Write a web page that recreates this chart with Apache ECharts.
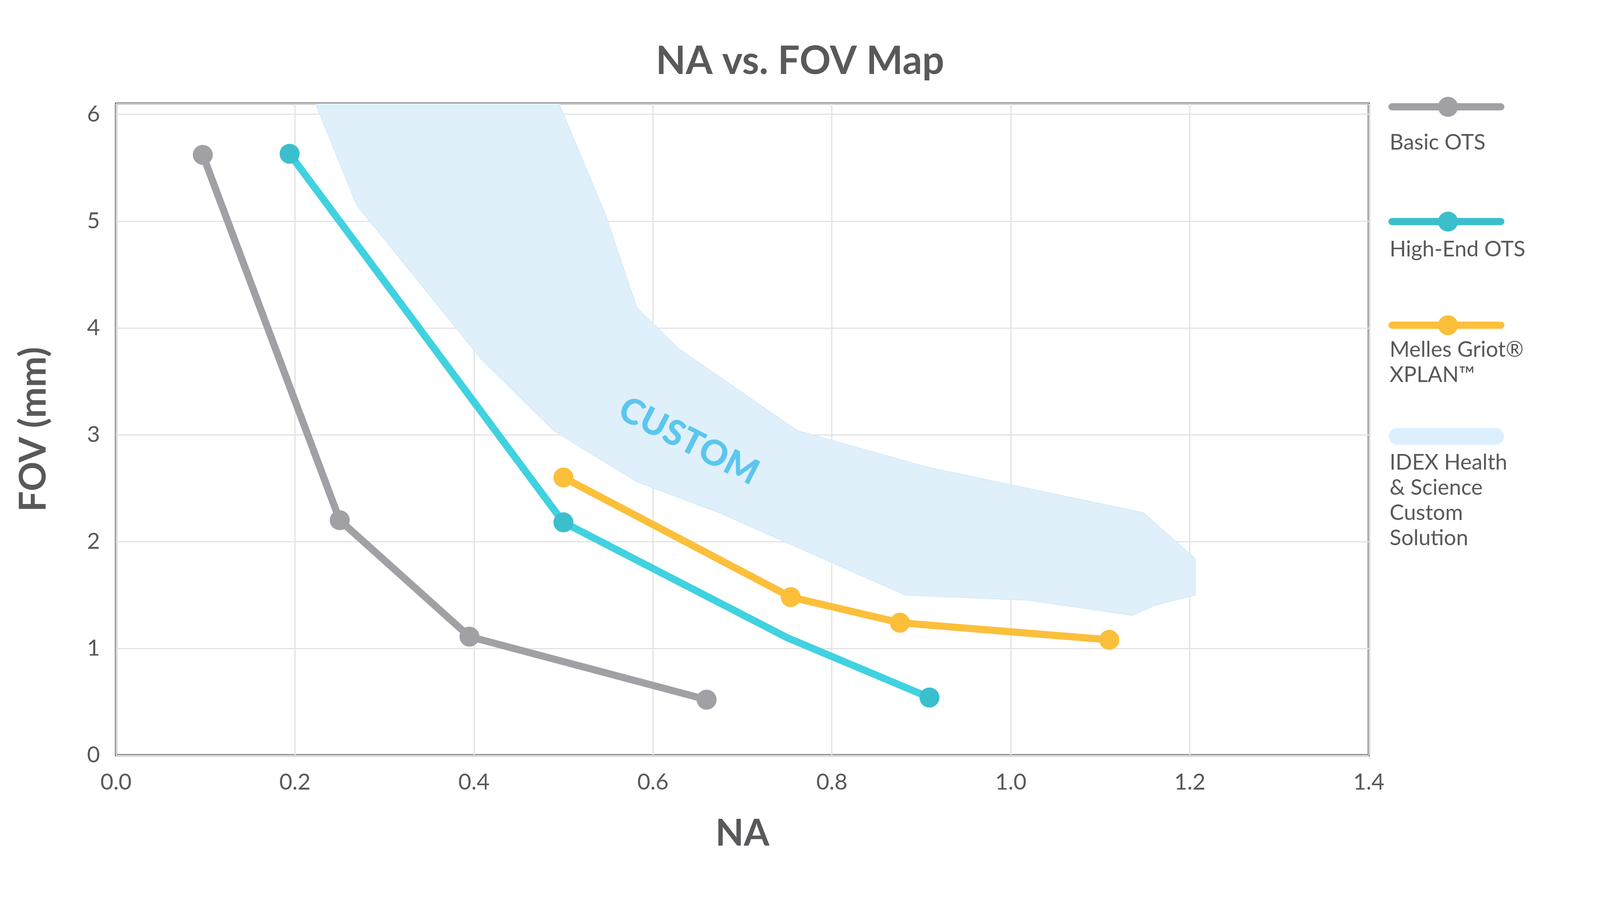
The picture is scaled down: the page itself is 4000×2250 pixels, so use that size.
<!DOCTYPE html>
<html><head><meta charset="utf-8">
<script src="https://cdn.jsdelivr.net/npm/echarts@6/dist/echarts.min.js"></script>
<style>html,body{margin:0;padding:0;background:#fff}#c{width:4000px;height:2250px}</style>
</head><body><div id="c"></div>
<script>
const basicOTS = [[0.097,5.62],[0.25,2.2],[0.395,1.11],[0.66,0.52]];
const highEndOTS = [[0.194,5.63],[0.5,2.18],[0.75,1.1],[0.909,0.54]];
const highEndMarkers = [true,true,false,true];
const mellesGriot = [[0.5,2.6],[0.754,1.48],[0.876,1.24],[1.11,1.08]];
const customRegion = [[0.223,6.1],[0.495,6.1],[0.547,5.06],[0.582,4.19],[0.628,3.81],[0.761,3.04],[0.905,2.70],[1.148,2.27],[1.206,1.84],[1.206,1.5],[1.16,1.4],[1.136,1.31],[1.02,1.45],[0.882,1.5],[0.79,1.84],[0.674,2.27],[0.582,2.56],[0.489,3.04],[0.408,3.71],[0.269,5.15]];
const customLabel = [[0.64,2.94]];
const legendItems = ['Basic OTS','High-End OTS','Melles Griot®\nXPLAN™','IDEX Health\n& Science\nCustom\nSolution'];

const FONT = 'Lato';
const TXT = '#58595b';
const chart = echarts.init(document.getElementById('c'));
function lineSeries(name, data, color, markers){
  return {type:'line', name, z:3,
    data: data.map((d,i)=>({value:d, symbolSize: (markers && !markers[i]) ? 0 : 50})),
    lineStyle:{color, width:18}, itemStyle:{color}, symbol:'circle', showSymbol:true, animation:false};
}
const LX1=3480, LX2=3752, LDOT=3620;
const colors=['#a0a0a5','#3bbfcc','#fbbf3a'];
const lineYs=[267,554,813];
const textYs=[325,592,843,1125];
const graphic=[];
for(let i=0;i<3;i++){
  graphic.push({type:'line',shape:{x1:LX1,y1:lineYs[i],x2:LX2,y2:lineYs[i]},style:{stroke:colors[i],lineWidth:18,lineCap:'round'}});
  graphic.push({type:'circle',shape:{cx:LDOT,cy:lineYs[i],r:25},style:{fill:colors[i]}});
}
graphic.push({type:'rect',shape:{x:LX1-8,y:1070,width:LX2-LX1+16,height:42,r:21},style:{fill:'#dcefff'}});
legendItems.forEach((t,i)=>graphic.push({type:'text',x:LX1-6,y:textYs[i],style:{text:t,font:'54px Lato',fill:TXT,lineHeight:63}}));

chart.setOption({
  animation:false,
  title:{text:'NA vs. FOV Map',left:'center',top:100,textStyle:{fontFamily:FONT,fontSize:97,fontWeight:'bold',color:TXT}},
  grid:{left:290,right:578,top:259,bottom:362,show:true,borderColor:'#444',borderWidth:5},
  xAxis:{type:'value',min:0,max:1.4,interval:0.2,name:'NA',nameLocation:'middle',nameGap:150,
    nameTextStyle:{fontFamily:FONT,fontSize:92,fontWeight:'bold',color:TXT},
    axisLine:{show:false},axisTick:{show:false},
    axisLabel:{fontFamily:FONT,fontSize:56,color:TXT,margin:40,formatter:v=>v.toFixed(1)},
    splitLine:{lineStyle:{color:'#e3e3e3',width:3}}},
  yAxis:{type:'value',min:0,max:6.1,interval:1,name:'FOV (mm)',nameLocation:'middle',nameGap:160,
    nameTextStyle:{fontFamily:FONT,fontSize:92,fontWeight:'bold',color:TXT},
    axisLine:{show:false},axisTick:{show:false},
    axisLabel:{fontFamily:FONT,fontSize:56,color:TXT,margin:40,showMaxLabel:false,
      formatter:v=>Number.isInteger(v)?String(v):''},
    splitLine:{lineStyle:{color:'#e3e3e3',width:3}}},
  graphic,
  series:[
    {type:'custom',z:1,data:[0],renderItem:(p,api)=>({type:'polygon',
      shape:{points:customRegion.map(d=>api.coord(d))},
      style:{fill:'#dff0fb',stroke:'#d3eaf9',lineWidth:2}})},
    {type:'custom',z:2,data:customLabel,renderItem:(p,api)=>{const c=api.coord([api.value(0),api.value(1)]);
      return {type:'text',x:c[0],y:c[1],rotation:-0.47,style:{text:'CUSTOM',font:'900 88px Lato',fill:'#5bc6ee',align:'center',verticalAlign:'middle'}};}},
    lineSeries('Basic OTS',basicOTS,colors[0]),
    lineSeries('High-End OTS',highEndOTS,colors[1],highEndMarkers),
    lineSeries('Melles Griot XPLAN',mellesGriot,colors[2])
  ]
});
</script></body></html>
